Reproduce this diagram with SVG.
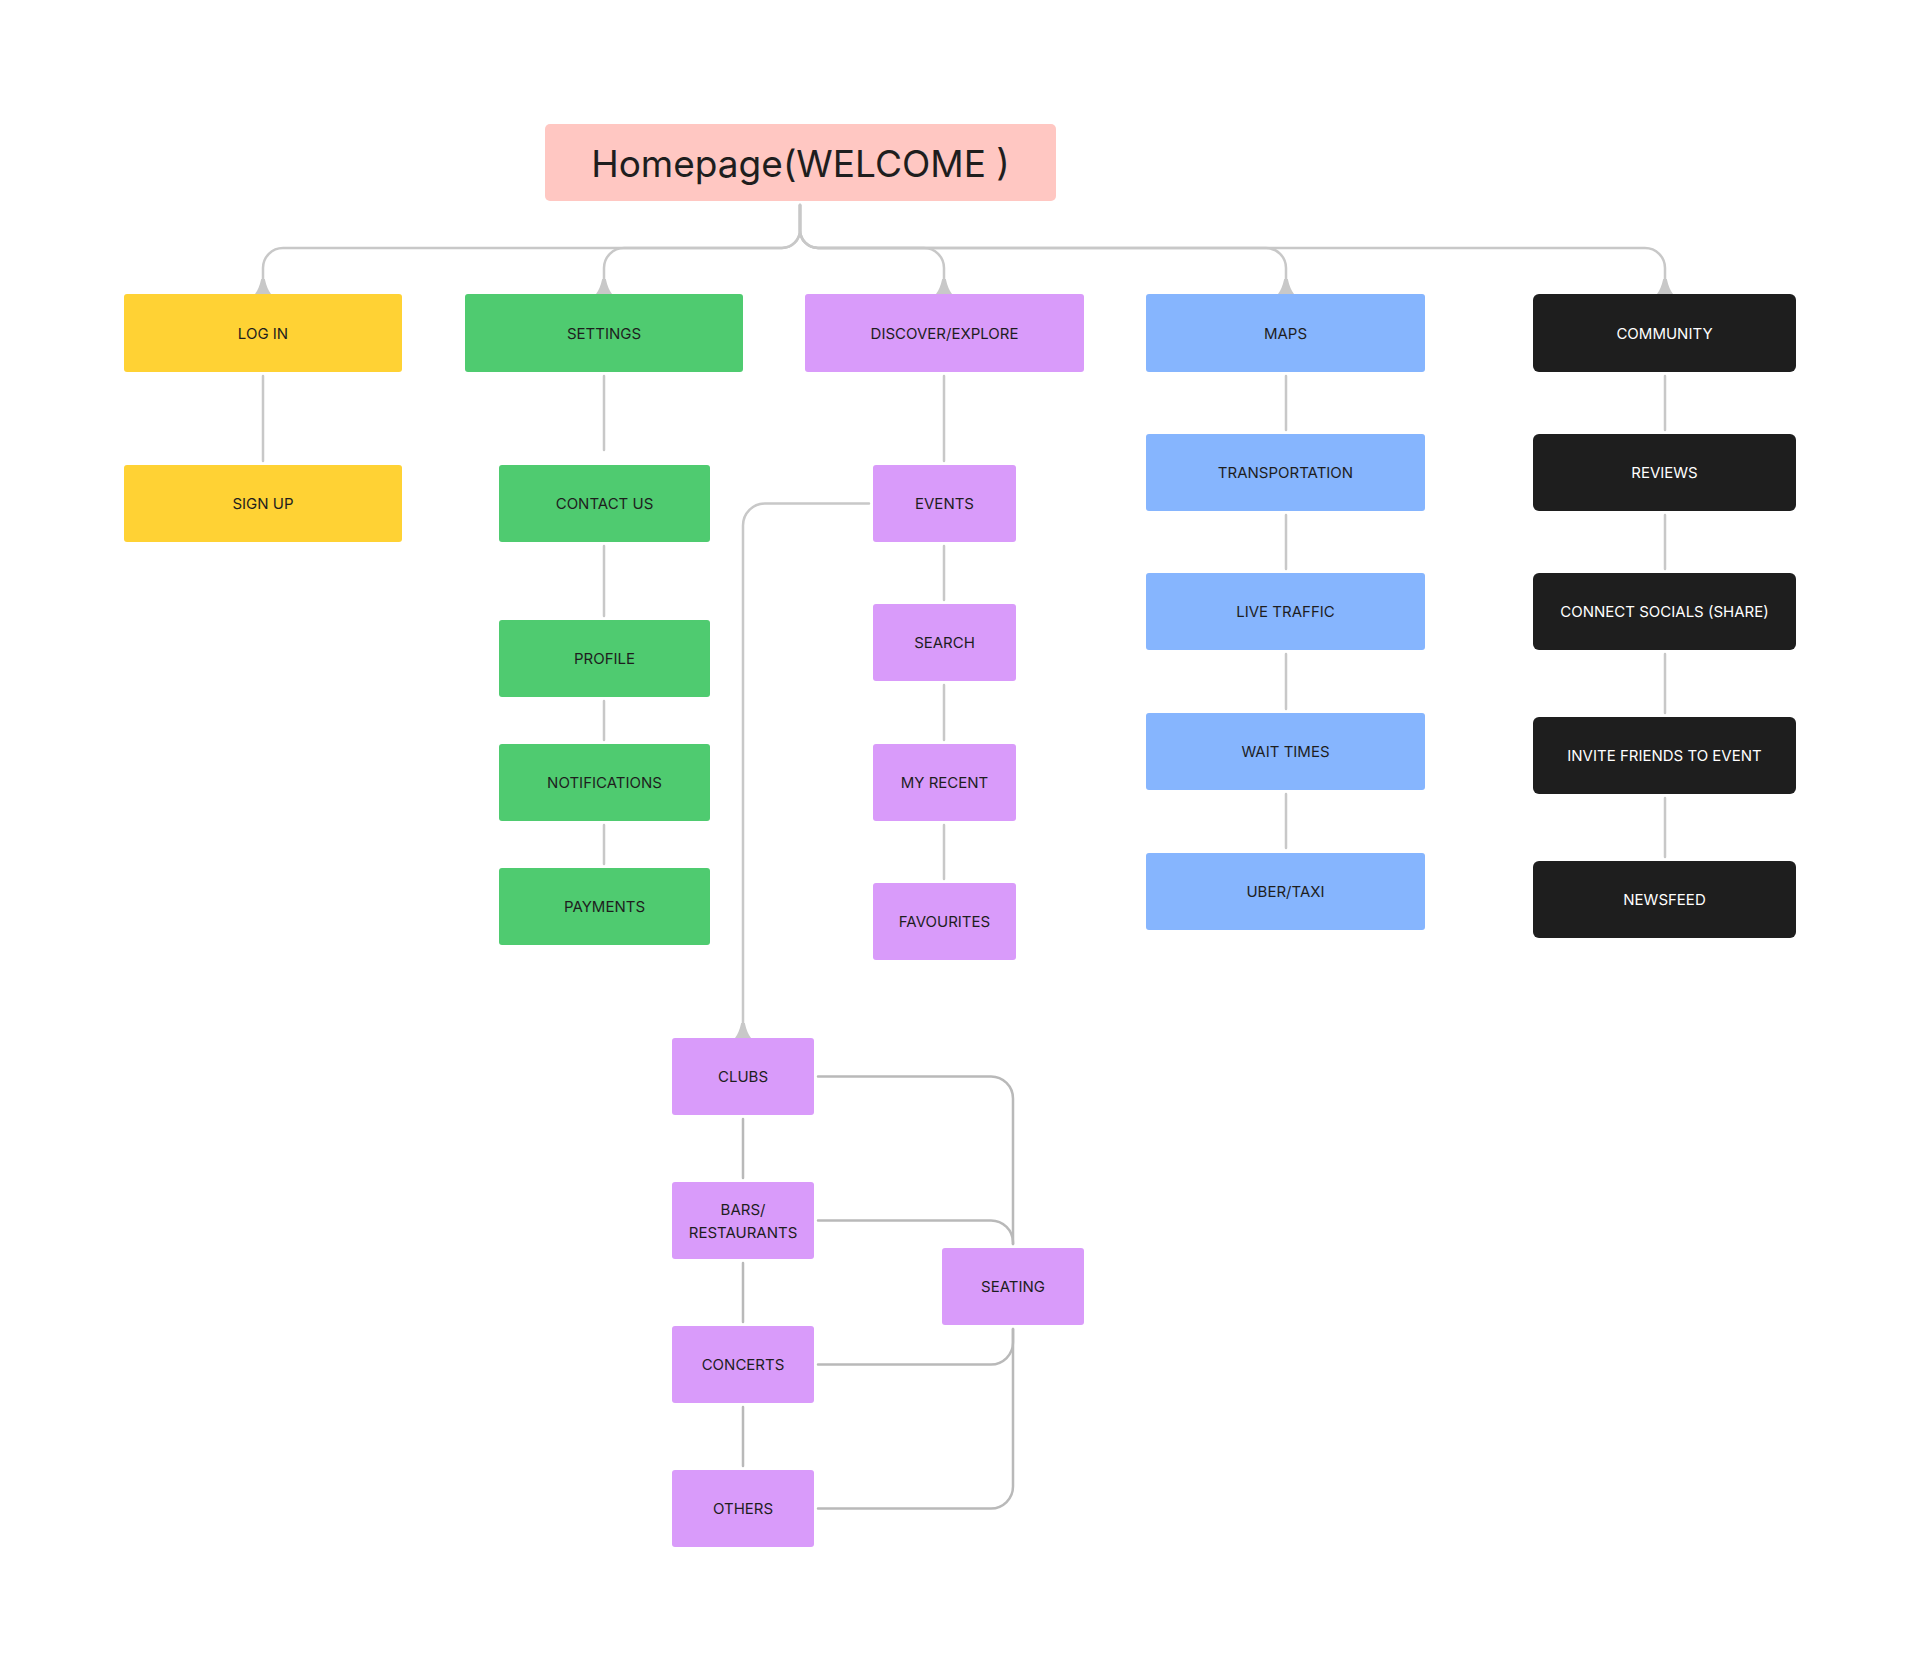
<svg xmlns="http://www.w3.org/2000/svg" xmlns:xlink="http://www.w3.org/1999/xlink" width="1920" height="1671" viewBox="0 0 1920 1671">
<style>
  .t{font-family:Inter,"Liberation Sans",Arial,sans-serif;font-size:15px;fill:#1E1E1E;text-anchor:middle;dominant-baseline:central}
  .tw{fill:#FFFFFF}
  .big{font-size:37px}
  .y{fill:#FFD234}
  .g{fill:#4FCB70}
  .p{fill:#D99BFA}
  .b{fill:#86B5FE}
  .k{fill:#1E1E1E}
  .pk{fill:#FFC7C2}
  .ln{fill:none;stroke:#C8C8C8;stroke-width:2.5;stroke-linecap:round}
  .ln2{fill:none;stroke:#B9B9B9;stroke-width:2.5;stroke-linecap:round}
  .ah{fill:#C8C8C8}
</style>
<defs>
  <path id="ah" d="M-8,0 Q-4,-5 -1.8,-15 L1.8,-15 Q4,-5 8,0 Z"/>
</defs>
<rect width="1920" height="1671" fill="#FFFFFF"/>

<g id="connectors">
  <path class="ln" d="M800,205 V230 A18,18 0 0 1 782,248 H283 A20,20 0 0 0 263,268 V282"/>
  <path class="ln" d="M800,205 V230 A18,18 0 0 1 782,248 H624 A20,20 0 0 0 604,268 V282"/>
  <path class="ln" d="M800,205 V230 A18,18 0 0 0 818,248 H924 A20,20 0 0 1 944,268 V282"/>
  <path class="ln" d="M800,205 V230 A18,18 0 0 0 818,248 H1266 A20,20 0 0 1 1286,268 V282"/>
  <path class="ln" d="M800,205 V230 A18,18 0 0 0 818,248 H1645 A20,20 0 0 1 1665,268 V282"/>
  <g class="ah">
    <use xlink:href="#ah" x="263" y="294"/>
    <use xlink:href="#ah" x="604" y="294"/>
    <use xlink:href="#ah" x="944" y="294"/>
    <use xlink:href="#ah" x="1286" y="294"/>
    <use xlink:href="#ah" x="1665" y="294"/>
    <use xlink:href="#ah" x="743" y="1038"/>
  </g>
  <path class="ln" d="M263,376 V461"/>
  <path class="ln" d="M604,376 V450"/>
  <path class="ln" d="M604,546 V616"/>
  <path class="ln" d="M604,701 V740"/>
  <path class="ln" d="M604,825 V864"/>
  <path class="ln" d="M944,376 V461"/>
  <path class="ln" d="M944,546 V600"/>
  <path class="ln" d="M944,685 V740"/>
  <path class="ln" d="M944,825 V879"/>
  <path class="ln" d="M1286,376 V430"/>
  <path class="ln" d="M1286,515 V569"/>
  <path class="ln" d="M1286,654 V709"/>
  <path class="ln" d="M1286,794 V848"/>
  <path class="ln" d="M1665,376 V430"/>
  <path class="ln" d="M1665,515 V569"/>
  <path class="ln" d="M1665,654 V713"/>
  <path class="ln" d="M1665,798 V857"/>
  <path class="ln" d="M869,503.5 H765 A22,22 0 0 0 743,525.5 V1026"/>
  <path class="ln2" d="M743,1119 V1178"/>
  <path class="ln2" d="M743,1263 V1322"/>
  <path class="ln2" d="M743,1407 V1466"/>
  <path class="ln2" d="M818,1076.5 H991 A22,22 0 0 1 1013,1098.5 V1244"/>
  <path class="ln2" d="M818,1220.5 H991 A22,22 0 0 1 1013,1242.5 V1244"/>
  <path class="ln2" d="M1013,1329 V1342.5 A22,22 0 0 1 991,1364.5 H818"/>
  <path class="ln2" d="M1013,1329 V1486.5 A22,22 0 0 1 991,1508.5 H818"/>
</g>

<g id="homepage"><rect class="pk" x="545" y="124" width="511" height="77" rx="5"/><text class="t big" x="800.5" y="163">Homepage(WELCOME )</text></g>

<g id="login"><rect class="y" x="124" y="294" width="278" height="78" rx="3"/><text class="t" x="263" y="333">LOG IN</text></g>
<g id="signup"><rect class="y" x="124" y="465" width="278" height="77" rx="3"/><text class="t" x="263" y="503.5">SIGN UP</text></g>

<g id="settings"><rect class="g" x="465" y="294" width="278" height="78" rx="3"/><text class="t" x="604" y="333">SETTINGS</text></g>
<g id="contact"><rect class="g" x="499" y="465" width="211" height="77" rx="3"/><text class="t" x="604.5" y="503.5">CONTACT US</text></g>
<g id="profile"><rect class="g" x="499" y="620" width="211" height="77" rx="3"/><text class="t" x="604.5" y="658.5">PROFILE</text></g>
<g id="notifications"><rect class="g" x="499" y="744" width="211" height="77" rx="3"/><text class="t" x="604.5" y="782.5">NOTIFICATIONS</text></g>
<g id="payments"><rect class="g" x="499" y="868" width="211" height="77" rx="3"/><text class="t" x="604.5" y="906.5">PAYMENTS</text></g>

<g id="discover"><rect class="p" x="805" y="294" width="279" height="78" rx="3"/><text class="t" x="944.5" y="333">DISCOVER/EXPLORE</text></g>
<g id="events"><rect class="p" x="873" y="465" width="143" height="77" rx="3"/><text class="t" x="944.5" y="503.5">EVENTS</text></g>
<g id="search"><rect class="p" x="873" y="604" width="143" height="77" rx="3"/><text class="t" x="944.5" y="642.5">SEARCH</text></g>
<g id="myrecent"><rect class="p" x="873" y="744" width="143" height="77" rx="3"/><text class="t" x="944.5" y="782.5">MY RECENT</text></g>
<g id="favourites"><rect class="p" x="873" y="883" width="143" height="77" rx="3"/><text class="t" x="944.5" y="921.5">FAVOURITES</text></g>

<g id="maps"><rect class="b" x="1146" y="294" width="279" height="78" rx="3"/><text class="t" x="1285.5" y="333">MAPS</text></g>
<g id="transportation"><rect class="b" x="1146" y="434" width="279" height="77" rx="3"/><text class="t" x="1285.5" y="472.5">TRANSPORTATION</text></g>
<g id="livetraffic"><rect class="b" x="1146" y="573" width="279" height="77" rx="3"/><text class="t" x="1285.5" y="611.5">LIVE TRAFFIC</text></g>
<g id="waittimes"><rect class="b" x="1146" y="713" width="279" height="77" rx="3"/><text class="t" x="1285.5" y="751.5">WAIT TIMES</text></g>
<g id="ubertaxi"><rect class="b" x="1146" y="853" width="279" height="77" rx="3"/><text class="t" x="1285.5" y="891.5">UBER/TAXI</text></g>

<g id="community"><rect class="k" x="1533" y="294" width="263" height="78" rx="6"/><text class="t tw" x="1664.5" y="333">COMMUNITY</text></g>
<g id="reviews"><rect class="k" x="1533" y="434" width="263" height="77" rx="6"/><text class="t tw" x="1664.5" y="472.5">REVIEWS</text></g>
<g id="connectsocials"><rect class="k" x="1533" y="573" width="263" height="77" rx="6"/><text class="t tw" x="1664.5" y="611.5">CONNECT SOCIALS (SHARE)</text></g>
<g id="invitefriends"><rect class="k" x="1533" y="717" width="263" height="77" rx="6"/><text class="t tw" x="1664.5" y="755.5">INVITE FRIENDS TO EVENT</text></g>
<g id="newsfeed"><rect class="k" x="1533" y="861" width="263" height="77" rx="6"/><text class="t tw" x="1664.5" y="899.5">NEWSFEED</text></g>

<g id="clubs"><rect class="p" x="672" y="1038" width="142" height="77" rx="3"/><text class="t" x="743" y="1076.5">CLUBS</text></g>
<g id="bars"><rect class="p" x="672" y="1182" width="142" height="77" rx="3"/><text class="t" x="743" y="1209.5">BARS/</text><text class="t" x="743" y="1232.5">RESTAURANTS</text></g>
<g id="concerts"><rect class="p" x="672" y="1326" width="142" height="77" rx="3"/><text class="t" x="743" y="1364.5">CONCERTS</text></g>
<g id="others"><rect class="p" x="672" y="1470" width="142" height="77" rx="3"/><text class="t" x="743" y="1508.5">OTHERS</text></g>
<g id="seating"><rect class="p" x="942" y="1248" width="142" height="77" rx="3"/><text class="t" x="1013" y="1286.5">SEATING</text></g>
</svg>
